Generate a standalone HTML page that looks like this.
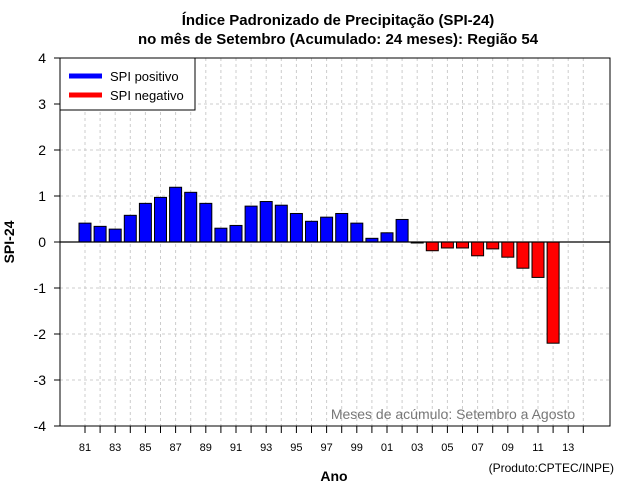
<!DOCTYPE html>
<html><head><meta charset="utf-8"><style>
body{margin:0;background:#fff;}
svg{display:block;font-family:"Liberation Sans",Arial,sans-serif;}
</style></head><body>
<svg id="chart" width="640" height="500" viewBox="0 0 640 500">
<text x="338" y="25" text-anchor="middle" font-size="15" font-weight="bold">Índice Padronizado de Precipitação (SPI-24)</text>
<text x="338" y="44" text-anchor="middle" font-size="15" font-weight="bold">no mês de Setembro (Acumulado: 24 meses): Região 54</text>
<g id="grid"></g>
<g id="bars"></g>
<g id="axes"></g>
<rect x="60" y="58" width="550" height="368" fill="none" stroke="#000" stroke-width="1"/>
<g>
<rect x="60" y="58" width="135" height="52" fill="#fff" stroke="#000"/>
<line x1="69" y1="76" x2="102" y2="76" stroke="#0000ff" stroke-width="5"/>
<text x="110" y="81" font-size="13">SPI positivo</text>
<line x1="69" y1="95" x2="102" y2="95" stroke="#ff0000" stroke-width="5"/>
<text x="110" y="100" font-size="13">SPI negativo</text>
</g>
<text x="453" y="419" text-anchor="middle" font-size="14" fill="#777">Meses de acúmulo: Setembro a Agosto</text>
<text x="14" y="242" text-anchor="middle" font-size="14" font-weight="bold" transform="rotate(-90 14 242)">SPI-24</text>
<text x="334" y="481" text-anchor="middle" font-size="14" font-weight="bold">Ano</text>
<text x="614" y="472" text-anchor="end" font-size="12">(Produto:CPTEC/INPE)</text>
</svg>
<script>
const years=[1981,1982,1983,1984,1985,1986,1987,1988,1989,1990,1991,1992,1993,1994,1995,1996,1997,1998,1999,2000,2001,2002,2003,2004,2005,2006,2007,2008,2009,2010,2011,2012];
const spiValues=[0.41,0.34,0.28,0.58,0.84,0.97,1.19,1.08,0.84,0.30,0.36,0.78,0.88,0.80,0.62,0.45,0.54,0.62,0.41,0.08,0.20,0.49,-0.02,-0.19,-0.13,-0.13,-0.30,-0.15,-0.33,-0.57,-0.77,-2.20];
const yTicks=[-4,-3,-2,-1,0,1,2,3,4];
const xTickYears=[1981,1982,1983,1984,1985,1986,1987,1988,1989,1990,1991,1992,1993,1994,1995,1996,1997,1998,1999,2000,2001,2002,2003,2004,2005,2006,2007,2008,2009,2010,2011,2012,2013,2014];
const xLabels=["81","83","85","87","89","91","93","95","97","99","01","03","05","07","09","11","13"];
const NS="http://www.w3.org/2000/svg";
function xs(yr){return 85+(yr-1981)*15.1;}
function ys(v){return 242-v*46;}
function mk(tag,attrs,parent){const e=document.createElementNS(NS,tag);for(const k in attrs)e.setAttribute(k,attrs[k]);parent.appendChild(e);return e;}
const grid=document.getElementById('grid'),bars=document.getElementById('bars'),axes=document.getElementById('axes');
yTicks.forEach(v=>{
  if(v!==0&&v!==4&&v!==-4){const l=mk('line',{x1:60,x2:610,y1:ys(v),y2:ys(v),stroke:'#ccc','stroke-dasharray':'3,3'},grid);
  
  }
  const t=mk('line',{x1:54,x2:60,y1:ys(v),y2:ys(v),stroke:'#000'},axes);
  
  
  const tx=mk('text',{x:46,y:ys(v)+5,'text-anchor':'end','font-size':14},axes);tx.textContent=String(v);
  
  
});
xTickYears.forEach(yr=>{
  const g=mk('line',{x1:xs(yr),x2:xs(yr),y1:58,y2:426,stroke:'#ccc','stroke-dasharray':'3,3'},grid);
  
  
  const t=mk('line',{x1:xs(yr),x2:xs(yr),y1:426,y2:433,stroke:'#000'},axes);
  
  
});
xLabels.forEach((lab,i)=>{
  const yr=1981+i*2;
  const tx=mk('text',{x:xs(yr),y:451,'text-anchor':'middle','font-size':11},axes);tx.textContent=lab;
  
  
});
years.forEach((yr,i)=>{
  const v=spiValues[i];
  const y0=ys(0),y1=ys(v);
  const r=mk('rect',{x:xs(yr)-6,y:Math.min(y0,y1),width:12,height:Math.max(Math.abs(y1-y0),1),fill:v>=0?'#0000ff':'#ff0000',stroke:'#000','stroke-width':1},bars);
  
  
});
const z=mk('line',{x1:60,x2:610,y1:ys(0),y2:ys(0),stroke:'#000','stroke-width':1.2},axes);


</script>
</body></html>
